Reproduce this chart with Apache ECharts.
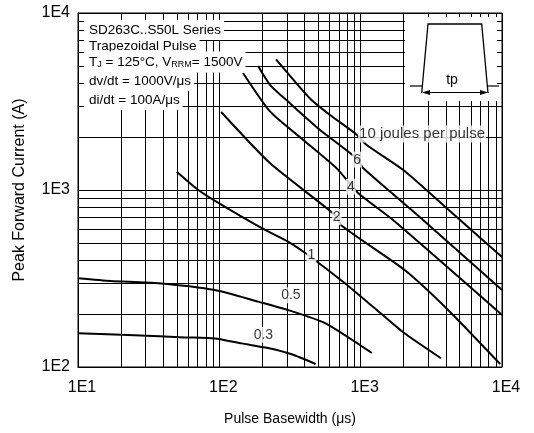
<!DOCTYPE html>
<html><head><meta charset="utf-8">
<script src="https://cdn.jsdelivr.net/npm/echarts@6/dist/echarts.min.js"></script>
<style>html,body{margin:0;padding:0;background:#fff}#c{width:534px;height:433px}</style>
</head><body><div id="c"></div>
<script>
// ---- data (pulse basewidth in µs, peak forward current in A) ----
const xTickValues = [10, 100, 1000, 10000];
const yTickValues = [100, 1000, 10000];

const t03 = [10, 25, 57, 93, 144, 221, 325, 480];
const i03 = [155, 151, 147, 145, 136, 128, 118, 104];

const t05 = [10, 17, 37, 93, 188, 306, 560, 1200];
const i05 = [317, 306, 297, 272, 234, 210, 177, 120];

const t1 = [50, 71, 104, 200, 308, 415, 750, 1300, 2020, 3700];
const i1 = [1269, 1000, 823, 608, 510, 435, 303, 210, 156, 112];

const t2 = [103, 229, 659, 738, 2047, 4155, 9705];
const i2 = [2760, 1415, 722, 626, 353, 210, 104];

const t4 = [147, 229, 393, 677, 959, 1695, 10000];
const i4 = [4581, 2770, 1916, 1325, 962, 677, 197];

const t6 = [188, 229, 316, 516, 938, 1040, 2765, 10000];
const i6 = [5020, 3918, 3090, 2183, 1507, 1331, 677, 272];

const t10 = [252, 438, 607, 912, 1104, 2005, 3098, 5050, 10000];
const i10 = [5476, 3290, 2654, 2091, 1796, 1297, 958, 677, 418];

const curveNames = ['0.3', '0.5', '1', '2', '4', '6', '10'];

// curve labels (anchor in data coordinates)
const labelText = ['0.3', '0.5', '1', '2', '4', '6', '10 joules per pulse'];
const labelT = [205, 321, 449, 677, 853, 943, 959];
const labelI = [152, 254, 429, 704, 1044, 1484, 2072];

const boxRows = ['SD263C..S50L Series', 'Trapezoidal Pulse', 'T{s|J} = 125°C, V{s|RRM}= 1500V', 'dv/dt = 1000V/μs', 'di/dt = 100A/μs'];

// ---- build ----
const FONT = 'Liberation Sans, Arial, sans-serif';
const pair = (t, i) => t.map((v, k) => [v, i[k]]);
const curves = [pair(t03, i03), pair(t05, i05), pair(t1, i1), pair(t2, i2), pair(t4, i4), pair(t6, i6), pair(t10, i10)];

// minor log grid lines
const xGrid = [], yGrid = [];
[10, 100, 1000].forEach(d => { for (let m = 2; m <= 9; m++) xGrid.push(m * d); });
[100, 1000].forEach(d => { for (let m = 2; m <= 9; m++) yGrid.push(m * d); });

const X0 = xTickValues[0], X1 = xTickValues[xTickValues.length - 1];
const Y0 = yTickValues[0], Y1 = yTickValues[yTickValues.length - 1];
const snap = p => Math.round(p) + 0.5;

const series = [];
series.push({
  type: 'custom', z: 1, silent: true,
  data: xGrid.map(v => [v, Y0]),
  renderItem: (params, api) => {
    const a = api.coord([api.value(0), Y0]);
    const b = api.coord([api.value(0), Y1]);
    const x = snap(a[0]);
    return { type: 'line', shape: { x1: x, y1: a[1], x2: x, y2: b[1] }, style: { stroke: '#000', lineWidth: 1 } };
  }
});
series.push({
  type: 'custom', z: 1, silent: true,
  data: yGrid.map(v => [X0, v]),
  renderItem: (params, api) => {
    const a = api.coord([X0, api.value(1)]);
    const b = api.coord([X1, api.value(1)]);
    const y = snap(a[1]);
    return { type: 'line', shape: { x1: a[0], y1: y, x2: b[0], y2: y }, style: { stroke: '#000', lineWidth: 1 } };
  }
});
curves.forEach((d, k) => series.push({
  name: curveNames[k], type: 'line', data: d, showSymbol: false, smooth: 0.2, z: 3,
  lineStyle: { color: '#000', width: 2 }, silent: true
}));
series.push({
  type: 'scatter', symbolSize: 0, z: 6, silent: true,
  data: labelText.map((s, k) => {
    const last = k === labelText.length - 1;
    return {
      value: [labelT[k], labelI[k]],
      label: {
        show: true, formatter: s, position: 'inside', color: '#000',
        fontFamily: FONT, fontSize: last ? 15 : 14, backgroundColor: '#fff', padding: [1, 1],
        align: last ? 'left' : 'center'
      }
    };
  })
});

const boxY = [30, 46.5, 62, 81, 100];
const graphic = boxRows.map((s, k) => ({
  type: 'text', x: 84, y: boxY[k], z: 50, silent: true,
  style: {
    text: s, fontFamily: FONT, fontSize: 13.5, fill: '#000',
    backgroundColor: '#fff', padding: [3, 3, 3, 5], verticalAlign: 'middle', align: 'left',
    rich: { s: { fontFamily: FONT, fontSize: 9, padding: [6, 0, 0, 0] } }
  }
}));
// inset pulse drawing
graphic.push(
  { type: 'rect', shape: { x: 405, y: 17, width: 92, height: 84 }, style: { fill: '#fff' }, z: 50, silent: true },
  { type: 'polyline', shape: { points: [[421.7, 93], [428, 24], [481.7, 24], [488, 93]] }, style: { stroke: '#000', lineWidth: 1.3, fill: null }, z: 51, silent: true },
  { type: 'line', shape: { x1: 410, y1: 86, x2: 422.4, y2: 86 }, style: { stroke: '#000', lineWidth: 1.2 }, z: 51, silent: true },
  { type: 'line', shape: { x1: 487.4, y1: 86, x2: 499, y2: 86 }, style: { stroke: '#000', lineWidth: 1.2 }, z: 51, silent: true },
  { type: 'line', shape: { x1: 424, y1: 92.5, x2: 486, y2: 92.5 }, style: { stroke: '#000', lineWidth: 1.2 }, z: 51, silent: true },
  { type: 'polygon', shape: { points: [[422, 92.5], [430, 90], [430, 95]] }, style: { fill: '#000' }, z: 51, silent: true },
  { type: 'polygon', shape: { points: [[488, 92.5], [480, 90], [480, 95]] }, style: { fill: '#000' }, z: 51, silent: true },
  { type: 'text', x: 452, y: 80, z: 52, silent: true, style: { text: 'tp', fontFamily: FONT, fontSize: 14, fill: '#000', align: 'center', verticalAlign: 'middle' } }
);

const fmt = v => '1E' + Math.round(Math.log10(v));
const chart = echarts.init(document.getElementById('c'));
chart.setOption({
  animation: false,
  backgroundColor: '#fff',
  grid: { left: 78, right: 32, top: 13, bottom: 66, show: true, borderColor: '#000', borderWidth: 1, backgroundColor: 'transparent' },
  xAxis: {
    type: 'log', logBase: 10, min: X0, max: X1,
    name: 'Pulse Basewidth (μs)', nameLocation: 'middle', nameGap: 45,
    nameTextStyle: { fontFamily: FONT, fontSize: 14, color: '#000' },
    axisLine: { lineStyle: { color: '#000', width: 1 } },
    axisTick: { show: false },
    axisLabel: { formatter: fmt, fontFamily: FONT, fontSize: 16, color: '#000', margin: 13, padding: [0, 0, 0, 8] },
    splitLine: { show: true, lineStyle: { color: '#000', width: 1 } }
  },
  yAxis: {
    type: 'log', logBase: 10, min: Y0, max: Y1,
    name: 'Peak Forward Current (A)', nameLocation: 'middle', nameGap: 50, nameRotate: 90,
    nameTextStyle: { fontFamily: FONT, fontSize: 16, color: '#000' },
    axisLine: { lineStyle: { color: '#000', width: 1 } },
    axisTick: { show: false },
    axisLabel: { formatter: fmt, fontFamily: FONT, fontSize: 16, color: '#000', margin: 8 },
    splitLine: { show: true, lineStyle: { color: '#000', width: 1 } }
  },
  series: series,
  graphic: graphic
});
</script>
</body></html>
